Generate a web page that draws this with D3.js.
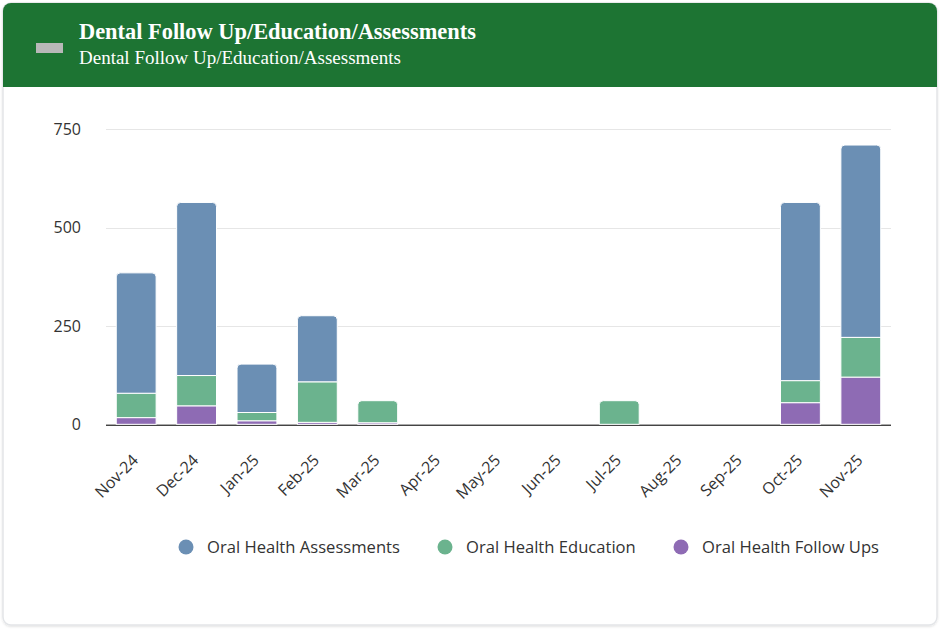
<!DOCTYPE html>
<html>
<head>
<meta charset="utf-8">
<script src="https://cdn.jsdelivr.net/npm/d3@7"></script>
<style>
  html, body { margin: 0; padding: 0; background: #ffffff; }
  svg { display: block; }
</style>
</head>
<body>
<svg id="chart" width="940" height="629"></svg>
<script>
// Monthly dental activity counts
const months = ["Nov-24","Dec-24","Jan-25","Feb-25","Mar-25","Apr-25","May-25","Jun-25","Jul-25","Aug-25","Sep-25","Oct-25","Nov-25"];
const followUps   = [17, 47, 9, 5, 4, 0, null, 0, 0, null, null, 55, 120];
const education   = [62, 77, 21, 103, 56, 0, null, 0, 60, null, null, 56, 101];
const assessments = [306, 440, 123, 168, 0, 0, null, 0, 0, null, null, 453, 489];
const yTicks = [0, 250, 500, 750];

const seriesNames = ["Oral Health Follow Ups", "Oral Health Education", "Oral Health Assessments"];
const seriesValues = [followUps, education, assessments];
const colors = { "Oral Health Assessments": "#6b8fb4", "Oral Health Education": "#6bb38e", "Oral Health Follow Ups": "#8e6bb4" };
const legendOrder = ["Oral Health Assessments", "Oral Health Education", "Oral Health Follow Ups"];

const svg = d3.select("#chart");

// Card with shadow
const defs = svg.append("defs");
const f = defs.append("filter").attr("id", "shadow").attr("x", "-5%").attr("y", "-5%").attr("width", "110%").attr("height", "110%");
f.append("feDropShadow").attr("dx", 0).attr("dy", 1).attr("stdDeviation", 1).attr("flood-color", "#000").attr("flood-opacity", 0.12);
defs.append("clipPath").attr("id", "cardClip")
  .append("rect").attr("x", 3).attr("y", 3).attr("width", 934).attr("height", 622).attr("rx", 8);

svg.append("rect").attr("x", 3).attr("y", 3).attr("width", 934).attr("height", 622).attr("rx", 8)
  .attr("fill", "#fff").attr("stroke", "#e3e5e8").attr("stroke-width", 1.5).attr("filter", "url(#shadow)");

// Header band
svg.append("rect").attr("x", 3).attr("y", 3).attr("width", 934).attr("height", 84)
  .attr("fill", "#1d7433").attr("clip-path", "url(#cardClip)");
svg.append("rect").attr("x", 36).attr("y", 43).attr("width", 27).attr("height", 10).attr("fill", "#b8b8b8");
svg.append("text").attr("x", 79).attr("y", 39)
  .attr("font-family", "'Liberation Serif', 'Times New Roman', serif").attr("font-weight", "bold")
  .attr("font-size", 22.4).attr("fill", "#fff").text("Dental Follow Up/Education/Assessments");
svg.append("text").attr("x", 79).attr("y", 63.5)
  .attr("font-family", "'Liberation Serif', 'Times New Roman', serif")
  .attr("font-size", 19).attr("fill", "#fff").text("Dental Follow Up/Education/Assessments");

// Scales
const x = d3.scaleBand().domain(months).range([106, 891]).paddingInner(0.34).paddingOuter(0.17);
const y = d3.scaleLinear().domain([0, 750]).range([424.3, 129.3]);

const font = "'Open Sans', sans-serif";

// Gridlines and y labels
const grid = svg.append("g");
grid.selectAll("line").data(yTicks.filter(d => d > 0)).join("line")
  .attr("x1", 106).attr("x2", 891)
  .attr("y1", d => Math.round(y(d)) + 0.5).attr("y2", d => Math.round(y(d)) + 0.5)
  .attr("stroke", "#e6e6e6").attr("stroke-width", 1);
svg.append("line").attr("x1", 106).attr("x2", 891)
  .attr("y1", Math.round(y(0)) + 0.5).attr("y2", Math.round(y(0)) + 0.5)
  .attr("stroke", "#aaaaaa").attr("stroke-width", 1);
svg.append("g").selectAll("text").data(yTicks).join("text")
  .attr("x", 81).attr("y", d => y(d)).attr("dy", "0.35em").attr("text-anchor", "end")
  .attr("font-family", font).attr("font-size", 16).attr("fill", "#333")
  .text(d => d);

// Stacked bars
const rows = months.map((m, i) => {
  const r = { month: m };
  seriesNames.forEach((s, k) => { r[s] = seriesValues[k][i] == null ? 0 : seriesValues[k][i]; });
  return r;
});
const stacked = d3.stack().keys(seriesNames)(rows);

function topIndex(i) {
  let t = -1;
  seriesValues.forEach((vals, k) => { if (vals[i]) t = k; });
  return t;
}

function roundedTop(x0, y0, w, h, r) {
  r = Math.min(r, h, w / 2);
  return `M${x0},${y0 + h}V${y0 + r}Q${x0},${y0} ${x0 + r},${y0}H${x0 + w - r}Q${x0 + w},${y0} ${x0 + w},${y0 + r}V${y0 + h}Z`;
}

const bars = svg.append("g");
stacked.forEach((layer, k) => {
  const name = seriesNames[k];
  layer.forEach((d, i) => {
    const v = seriesValues[k][i];
    if (!v) return;
    const x0 = x(months[i]);
    const w = x.bandwidth();
    const yTop = y(d[1]);
    const h = y(d[0]) - y(d[1]);
    if (topIndex(i) === k) {
      bars.append("path").attr("d", roundedTop(x0, yTop, w, h, 4))
        .attr("fill", colors[name]).attr("stroke", "#fff").attr("stroke-width", 1);
    } else {
      bars.append("rect").attr("x", x0).attr("y", yTop).attr("width", w).attr("height", h)
        .attr("fill", colors[name]).attr("stroke", "#fff").attr("stroke-width", 1);
    }
  });
});
// Months reported as zero: flat bar outline at the baseline
months.forEach((m, i) => {
  const vals = seriesValues.map(s => s[i]);
  if (vals.every(v => v === 0)) {
    bars.append("rect").attr("x", x(m)).attr("y", y(0)).attr("width", x.bandwidth()).attr("height", 0)
      .attr("fill", "none").attr("stroke", "#fff").attr("stroke-width", 1.5);
  }
});

// Baseline axis
svg.append("line").attr("x1", 106).attr("x2", 891)
  .attr("y1", Math.round(y(0)) + 1.5).attr("y2", Math.round(y(0)) + 1.5)
  .attr("stroke", "#444").attr("stroke-width", 1.2);

// X labels
svg.append("g").selectAll("text").data(months).join("text")
  .attr("transform", d => `translate(${x(d) + x.bandwidth() / 2 + 3},${y(0) + 37}) rotate(-45)`)
  .attr("text-anchor", "end")
  .attr("font-family", font).attr("font-size", 16).attr("fill", "#333")
  .text(d => d);

// Legend
const legendX = [186, 445, 681];
const lg = svg.append("g");
legendOrder.forEach((name, i) => {
  lg.append("circle").attr("cx", legendX[i]).attr("cy", 547).attr("r", 7.5).attr("fill", colors[name]);
  lg.append("text").attr("x", legendX[i] + 21).attr("y", 547).attr("dy", "0.35em")
    .attr("font-family", font).attr("font-size", 16.6).attr("fill", "#333").text(name);
});
</script>
</body>
</html>
